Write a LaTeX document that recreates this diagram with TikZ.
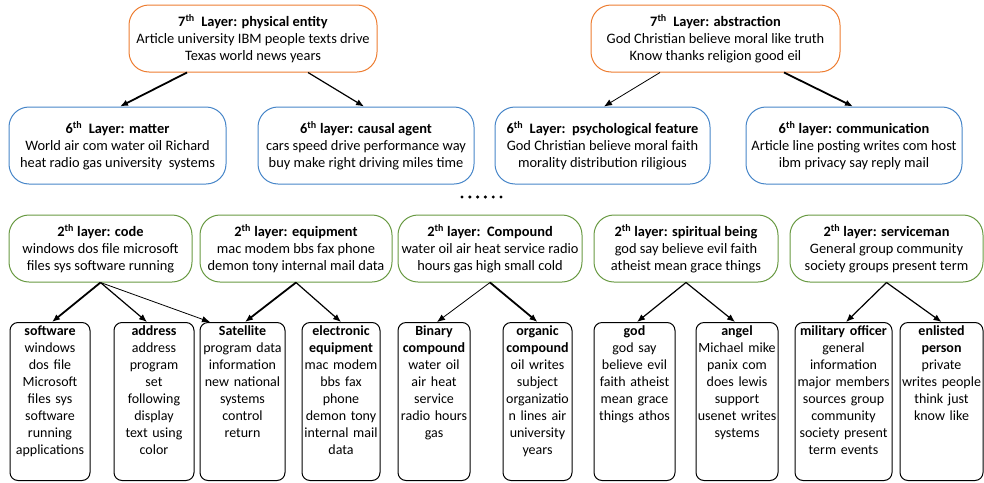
\documentclass[tikz,border=0pt]{standalone}
\usepackage{fontspec}
\setmainfont{Carlito}
\usetikzlibrary{arrows.meta}
\definecolor{toporange}{RGB}{237,125,49}
\definecolor{midblue}{RGB}{70,133,200}
\definecolor{lowgreen}{RGB}{104,153,66}

\begin{document}
\begin{tikzpicture}[x=1pt, y=-1pt,
    every node/.style={align=center, font=\fontsize{14.4}{17}\selectfont},
    layer/.style={draw, rounded corners=20pt, line width=1pt, inner sep=2pt},
    sevenbox/.style={layer, draw=toporange, minimum height=67pt},
    sixbox/.style={layer, draw=midblue, minimum height=77pt},
    twobox/.style={layer, draw=lowgreen, minimum height=67pt},
    leaf/.style={draw, rounded corners=8pt, line width=1pt, anchor=north,
                 font=\fontsize{14}{17}\selectfont,
                 inner xsep=0pt, inner ysep=2pt, text height=11pt, text depth=143pt},
    link/.style={-{Latex[length=8pt,width=6.5pt]}, line width=1.2pt},
    thicklink/.style={link, line width=1.8pt},
    thinlink/.style={link, line width=0.8pt}]
\useasboundingbox (0,0) rectangle (984,482);

% 7th layer
\node[sevenbox, minimum width=248pt] (phys) at (253,38.5)
  {\textbf{7\textsuperscript{th}\ \ Layer: physical entity}\\Article university IBM people texts drive\\Texas world news years};
\node[sevenbox, minimum width=249pt] (abst) at (715.5,38.5)
  {\textbf{7\textsuperscript{th}\ \ Layer: abstraction}\\God Christian believe moral like truth\\Know thanks religion good eil};

% 6th layer
\node[sixbox, minimum width=217pt] (matter) at (117.5,145.5)
  {\textbf{6\textsuperscript{th}\ \ Layer: matter}\\World air com water oil Richard\\heat radio gas university\ \ systems};
\node[sixbox, minimum width=216pt] (causal) at (366,145.5)
  {\textbf{6\textsuperscript{th} layer: causal agent}\\cars speed drive performance way\\buy make right driving miles time};
\node[sixbox, minimum width=215pt] (psych) at (602.5,145.5)
  {\textbf{6\textsuperscript{th}\ \ Layer:\ \ psychological feature}\\God Christian believe moral faith\\morality distribution riligious};
\node[sixbox, minimum width=216pt] (comm) at (854,145.5)
  {\textbf{6\textsuperscript{th} layer: communication}\\Article line posting writes com host\\ibm privacy say reply mail};

\draw[thicklink] ([xshift=-66pt]phys.south) -- ([xshift=2.5pt]matter.north);
\draw[link] ([xshift=55pt]phys.south) -- ([xshift=-2pt]causal.north);
\draw[thinlink] ([xshift=-55.5pt]abst.south) -- ([xshift=1.5pt]psych.north);
\draw[thicklink] ([xshift=68.5pt]abst.south) -- ([xshift=-1pt]comm.north);

% dots between the layers
\foreach \i in {0,...,5}
  \fill (462+7.8*\i,197) circle (1.7pt);

% 2nd layer
\node[twobox, minimum width=183pt] (code) at (100.5,248.5)
  {\textbf{2\textsuperscript{th} layer: code}\\windows dos file microsoft\\files sys software running};
\node[twobox, minimum width=192pt] (equip) at (296,248.5)
  {\textbf{2\textsuperscript{th} layer: equipment}\\mac modem bbs fax phone\\demon tony internal mail data};
\node[twobox, minimum width=184pt] (compound) at (490,248.5)
  {\textbf{2\textsuperscript{th} layer:\ \ Compound}\\water oil air heat service radio\\hours gas high small cold};
\node[twobox, minimum width=184pt] (spirit) at (686,248.5)
  {\textbf{2\textsuperscript{th} layer: spiritual being}\\god say believe evil faith\\atheist mean grace things};
\node[twobox, minimum width=193pt] (service) at (886.5,248.5)
  {\textbf{2\textsuperscript{th} layer: serviceman}\\General group community\\society groups present term};

% leaves
\node[leaf, text width=80pt] (soft) at (50,322)
  {\textbf{software}\\windows\\dos file\\Microsoft\\files sys\\software\\running\\applications};
\node[leaf, text width=80pt] (addr) at (154,322)
  {\textbf{address}\\address\\program\\set\\following\\display\\text using\\color};
\node[leaf, text width=85pt] (sat) at (242.5,322)
  {\textbf{Satellite}\\program data\\information\\new national\\systems\\control\\return};
\node[leaf, text width=78pt] (elec) at (341,322)
  {\textbf{electronic}\\\textbf{equipment}\\mac modem\\bbs fax\\phone\\demon tony\\internal mail\\data};
\node[leaf, text width=72pt] (binary) at (434,322)
  {\textbf{Binary}\\\textbf{compound}\\water oil\\air heat\\service\\radio hours\\gas};
\node[leaf, text width=69pt] (organic) at (537.5,322)
  {\textbf{organic}\\\textbf{compound}\\oil writes\\subject\\organizatio\\n lines air\\university\\years};
\node[leaf, text width=81pt] (god) at (634.5,322)
  {\textbf{god}\\god say\\believe evil\\faith atheist\\mean grace\\things athos};
\node[leaf, text width=82pt] (angel) at (737,322)
  {\textbf{angel}\\Michael mike\\panix com\\does lewis\\support\\usenet writes\\systems};
\node[leaf, text width=97pt] (officer) at (843.5,322)
  {\textbf{military officer}\\general\\information\\major members\\sources group\\community\\society present\\term events};
\node[leaf, text width=83pt] (enlist) at (941.5,322)
  {\textbf{enlisted}\\\textbf{person}\\private\\writes people\\think just\\know like};

\draw[thicklink] (code.south) -- ([xshift=2pt]soft.north);
\draw[link] (code.south) -- ([xshift=-7pt]addr.north);
\draw[thinlink] (code.south) -- ([xshift=-32.5pt]sat.north);
\draw[thicklink] (equip.south) -- ([xshift=2.5pt]sat.north);
\draw[link] (equip.south) -- (elec.north);
\draw[thinlink] (compound.south) -- ([xshift=3pt]binary.north);
\draw[thicklink] (compound.south) -- (organic.north);
\draw[link] (spirit.south) -- ([xshift=2.5pt]god.north);
\draw[link] (spirit.south) -- ([xshift=-2pt]angel.north);
\draw[link] (service.south) -- ([xshift=2.5pt]officer.north);
\draw[link] (service.south) -- (enlist.north);
\end{tikzpicture}
\end{document}
